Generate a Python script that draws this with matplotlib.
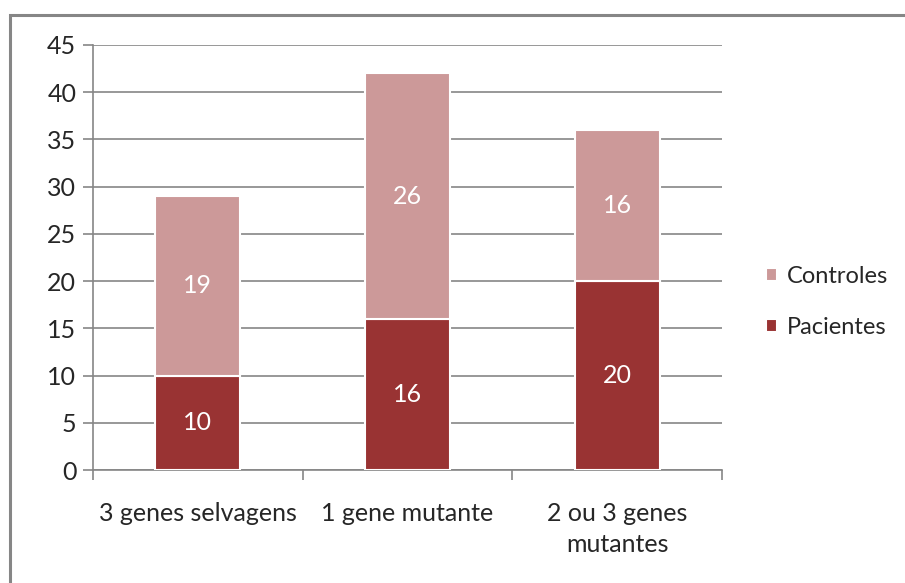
import numpy as np
import matplotlib.pyplot as plt
from matplotlib.patches import Rectangle

plt.rcParams['font.family'] = ['Lato', 'DejaVu Sans']

# Data
categories = ['3 genes selvagens', '1 gene mutante', '2 ou 3 genes\nmutantes']
pacientes = [10, 16, 20]
controles = [19, 26, 16]

col_pac = '#993333'
col_con = '#cc9999'
txt = '#262626'
fs = 18

fig = plt.figure(figsize=(9.05, 5.83), dpi=100)
ax = fig.add_axes([93 / 905, 1 - 470 / 583, (722 - 93) / 905, (470 - 45) / 583])

# chart border, open to the right and bottom like the cropped original
fig.patches.append(Rectangle((10 / 905, -0.1), 1.2, 1 - 15 / 583 + 0.1,
                             transform=fig.transFigure, fill=False,
                             edgecolor='#868686', linewidth=2.2))

x = np.arange(len(categories))
w = 0.405
b1 = ax.bar(x, pacientes, w, color=col_pac, edgecolor='white', linewidth=1.5,
            label='Pacientes', zorder=3)
b2 = ax.bar(x, controles, w, bottom=pacientes, color=col_con, edgecolor='white',
            linewidth=1.5, label='Controles', zorder=3)

for xi, p, c in zip(x, pacientes, controles):
    ax.text(xi, p / 2, str(p), ha='center', va='center', color='white', fontsize=fs, zorder=4)
    ax.text(xi, p + c / 2, str(c), ha='center', va='center', color='white', fontsize=fs, zorder=4)

ax.set_xlim(-0.5, len(categories) - 0.5)
ax.set_ylim(0, 45)
ax.set_yticks(range(0, 46, 5))
ax.yaxis.grid(True, color='#868686', linewidth=1.2, zorder=0)
ax.set_axisbelow(True)

ax.set_xticks(x)
ax.set_xticklabels(categories, fontsize=fs, color=txt, linespacing=1.45)
ax.tick_params(axis='x', length=0, pad=23)
ax.set_xticks(np.arange(-0.5, len(categories)), minor=True)
ax.tick_params(axis='x', which='minor', length=7, color='#868686', width=1.2)
ax.tick_params(axis='y', length=7, color='#868686', width=1.2, labelsize=fs,
               labelcolor=txt, pad=5)
for side in ['top', 'right']:
    ax.spines[side].set_visible(False)
for side in ['left', 'bottom']:
    ax.spines[side].set_color('#868686')
    ax.spines[side].set_linewidth(1.2)

handles = [b2, b1]
fig.legend(handles, ['Controles', 'Pacientes'], loc='center left',
           bbox_to_anchor=(766 / 905, 1 - 302 / 583), frameon=False, fontsize=17,
           borderpad=0, borderaxespad=0,
           handlelength=0.48, handleheight=0.48, handletextpad=0.4, labelspacing=1.25,
           labelcolor=txt)

fig.savefig('out.png', dpi=100)
